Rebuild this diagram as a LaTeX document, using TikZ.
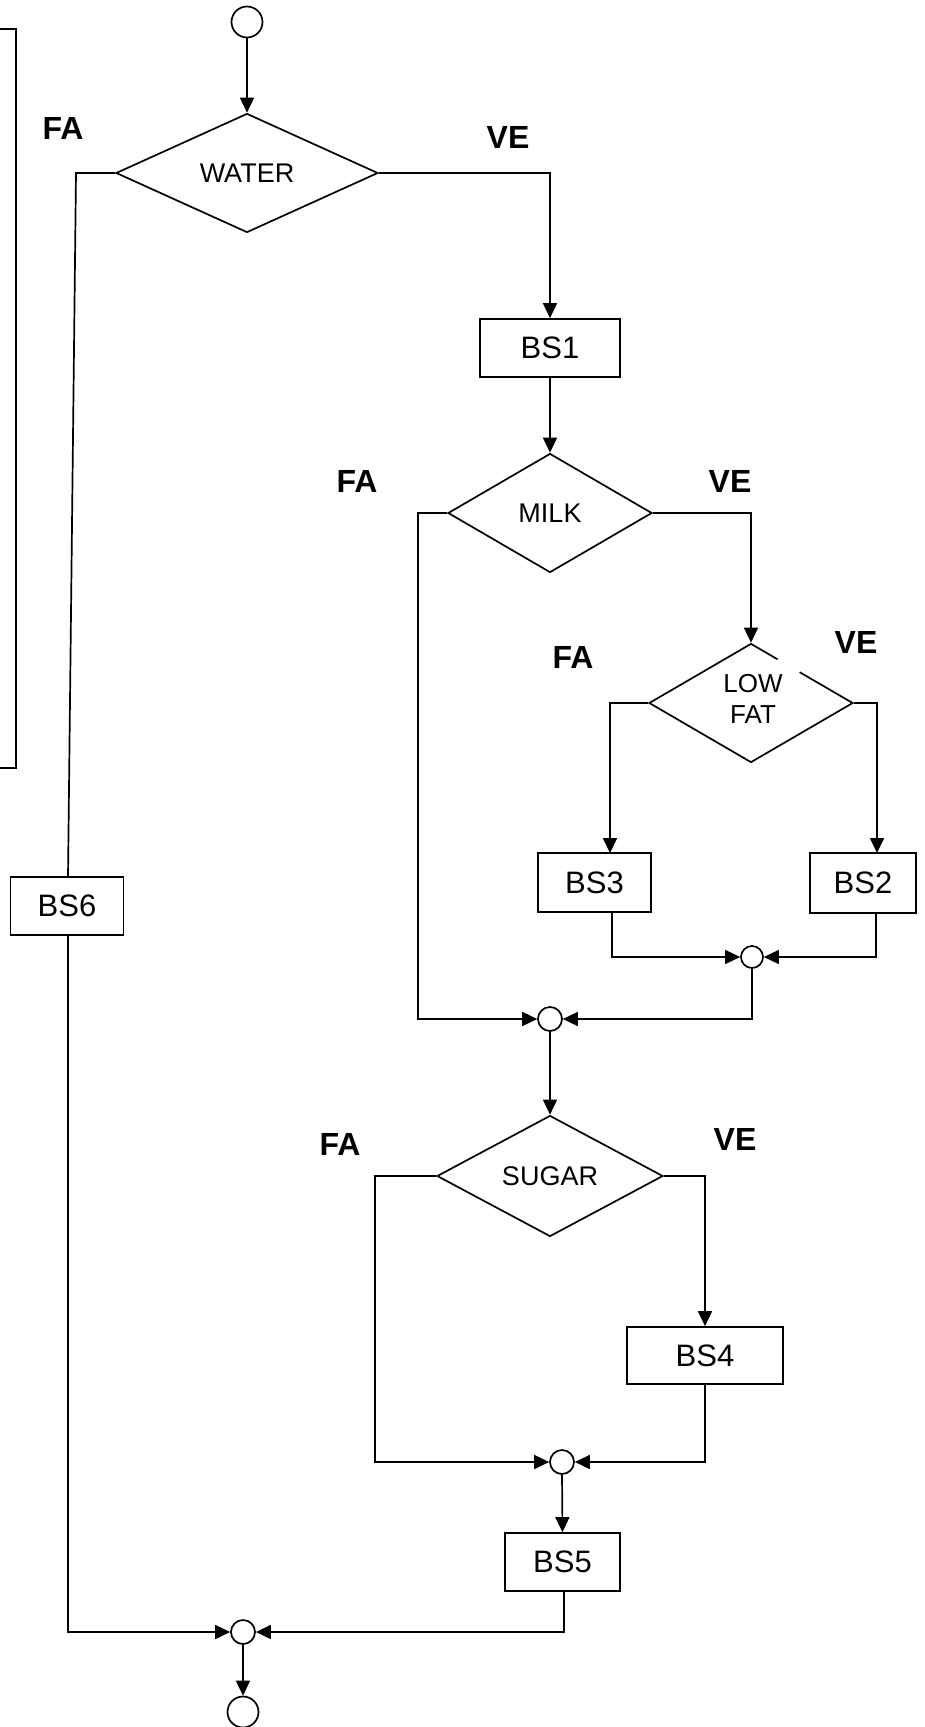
\documentclass[tikz,border=0pt]{standalone}
\usepackage{fontspec}
\setmainfont{Liberation Sans}
\usetikzlibrary{shapes.geometric,arrows.meta}
\begin{document}
\begin{tikzpicture}[x=1pt,y=-1pt,
  line width=1.7pt,
  arr/.style={-{Triangle[length=15pt,width=14pt]}},
  dec/.style={diamond,draw,inner sep=0pt,font=\fontsize{27}{30}\selectfont,align=center},
  box/.style={rectangle,draw,inner sep=0pt,font=\fontsize{31}{34}\selectfont},
  conn/.style={circle,draw,inner sep=0pt,minimum size=24pt},
  term/.style={circle,draw,inner sep=0pt,minimum size=31pt},
  lab/.style={font=\fontsize{32}{34}\selectfont\bfseries,inner sep=0pt}]
\useasboundingbox (0,0) rectangle (924,1727);
% left frame
\draw[line width=1.3pt] (0,29) -- (16,29) -- (16,768) -- (0,768);
% nodes
\node[term] (start) at (247,22) {};
\node[dec,minimum width=262pt,minimum height=119pt] (water) at (247,173) {WATER};
\node[box,minimum width=140pt,minimum height=58pt] (bs1) at (550,348) {BS1};
\node[dec,minimum width=204pt,minimum height=119pt] (milk) at (550,513) {MILK};
\node[dec,minimum width=204pt,minimum height=119pt] (lowfat) at (751,703) {};
\node[font=\fontsize{26}{31}\selectfont,align=center,inner sep=0pt] (lowfattxt) at (753,699) {LOW\\FAT};
\node[box,minimum width=113pt,minimum height=59pt] (bs3) at (594.5,882.5) {BS3};
\node[box,minimum width=106pt,minimum height=60pt] (bs2) at (863,883) {BS2};
\node[conn,minimum size=22pt] (m1) at (752,957) {};
\node[conn] (m2) at (550,1019) {};
\node[dec,minimum width=226pt,minimum height=121pt] (sugar) at (550,1176) {SUGAR};
\node[box,minimum width=156pt,minimum height=57pt] (bs4) at (705,1355.5) {BS4};
\node[conn] (m3) at (562,1462) {};
\node[box,minimum width=115pt,minimum height=58pt] (bs5) at (562.5,1562) {BS5};
\node[box,minimum width=113pt,minimum height=58pt] (bs6) at (67,906) {BS6};
\node[conn] (m4) at (243,1632) {};
\node[term] (end) at (243,1712) {};
% gap in LOW FAT diamond
\draw[white,line width=4pt] (777.5,659.6) -- (799.5,672.2);
% labels
\node[lab] (l1) at (63,128) {FA};
\node[lab] (l2) at (508,137) {VE};
\node[lab] (l3) at (357,481) {FA};
\node[lab] (l4) at (730,481) {VE};
\node[lab] (l5) at (573,657) {FA};
\node[lab] (l6) at (856,642) {VE};
\node[lab] (l7) at (340,1144) {FA};
\node[lab] (l8) at (735,1139) {VE};
% connectors
\draw[arr] (start) -- (water.north);
\draw[arr] (water.east) -- (550,173) -- (bs1.north);
\draw (water.west) -- (76,173) -- (68,877);
\draw[arr] (bs1.south) -- (milk.north);
\draw[arr] (milk.west) -- (418,513) -- (418,1019) -- (m2.west);
\draw[arr] (milk.east) -- (751,513) -- (lowfat.north);
\draw[arr] (lowfat.west) -- (610,703) -- (610,853);
\draw[arr] (lowfat.east) -- (877,703) -- (877,853);
\draw[arr] (612,912) -- (612,957) -- (m1.west);
\draw[arr] (876,913) -- (876,957) -- (m1.east);
\draw[arr] (m1.south) -- (752,1019) -- (m2.east);
\draw[arr] (m2.south) -- (sugar.north);
\draw[arr] (sugar.west) -- (375,1176) -- (375,1462) -- (m3.west);
\draw[arr] (sugar.east) -- (705,1176) -- (bs4.north);
\draw[arr] (bs4.south) -- (705,1462) -- (m3.east);
\draw[arr] (m3.south) -- (bs5.north);
\draw[arr] (564,1591) -- (564,1632) -- (m4.east);
\draw[arr] (68,935) -- (68,1632) -- (m4.west);
\draw[arr] (m4.south) -- (end.north);
\end{tikzpicture}
\end{document}
